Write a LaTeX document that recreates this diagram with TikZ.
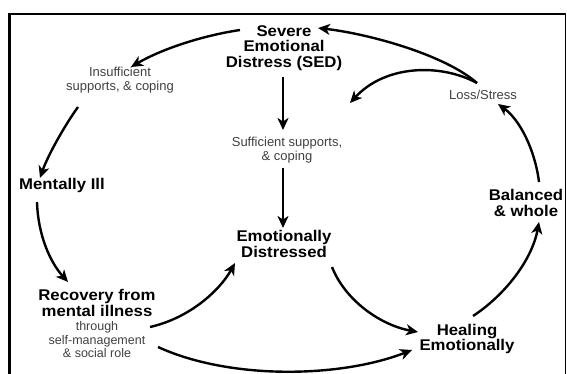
\documentclass[tikz,border=0pt]{standalone}
\usepackage{fontspec}
\setmainfont{Liberation Sans}
\newfontfamily\widebold[FakeStretch=1.08]{Liberation Sans Bold}
\usetikzlibrary{arrows.meta,calc}
\begin{document}
\begin{tikzpicture}[x=1pt,y=-1pt,
  lbl/.style={font=\fontsize{15.5}{15.5}\selectfont\widebold, align=center, inner sep=0pt},
  sub/.style={font=\fontsize{13}{14.5}\selectfont, text=black!75, align=center, inner sep=0pt},
  arr/.style={line width=2.4pt, -{Stealth[length=12pt,width=11pt,inset=3.5pt]}}]
\useasboundingbox (0,0) rectangle (567,374);
% frame
\draw[line width=3pt] (9,380) -- (9,14);
\draw[line width=2pt] (8,14) -- (566,14);
\draw[line width=1.4pt] (565.5,14) -- (565.5,380);
% nodes
\node[lbl] (sed) at (284,48) {Severe\\Emotional\\Distress (SED)};
\node[sub] (insuf) at (120,80) {Insufficient\\supports, \& coping};
\node[lbl] (ment) at (62,185) {Mentally Ill};
\node[lbl] (recov) at (97,303) {Recovery from\\mental illness};
\node[sub, font=\fontsize{12.5}{13.5}\selectfont] (recnote) at (97,340) {through\\self-management\\\& social role};
\node[sub] (suff) at (287,150) {Sufficient supports,\\\& coping};
\node[lbl] (emod) at (284,244) {Emotionally\\Distressed};
\node[lbl] (heal) at (467,339) {Healing\\Emotionally};
\node[lbl] (bal) at (526,203) {Balanced\\\& whole};
\node[sub] (loss) at (483,95) {Loss/Stress};
\coordinate (free) at (350,103);
% connectors
\draw[arr] ($(sed)+(-44,-18)$) .. controls (200,36) and (160,50) .. ($(insuf)+(11,-13)$);
\draw[arr] ($(insuf)+(-42,27)$) .. controls (65,125) and (48,155) .. ($(ment)+(-22,-7)$);
\draw[arr] ($(sed)+(-1,29)$) -- ($(suff)+(-4,-20)$);
\draw[arr] ($(suff)+(-4,18)$) -- ($(emod)+(-1,-16)$);
\draw[arr] ($(ment)+(-25,17)$) .. controls (38,235) and (50,262) .. ($(recov)+(-29,-21)$);
\draw[arr] ($(recnote)+(53,-13)$) .. controls (190,318) and (220,290) .. ($(emod)+(-49,19)$);
\draw[arr] ($(recnote)+(61,7)$) .. controls (230,380) and (340,378) .. ($(heal)+(-55,11)$);
\draw[arr] ($(emod)+(48,23)$) .. controls (345,300) and (380,325) .. ($(heal)+(-49,-7)$);
\draw[arr] ($(heal)+(6,-23)$) .. controls (505,295) and (532,260) .. ($(bal)+(13,19)$);
\draw[arr] ($(bal)+(13,-21)$) .. controls (535,150) and (520,120) .. ($(loss)+(15,9)$);
\draw[arr] ($(loss)+(-6,-12)$) .. controls (445,55) and (370,34) .. ($(sed)+(34,-20)$);
\draw[arr] ($(loss)+(-6,-12)$) .. controls (440,63) and (385,65) .. (free);
\end{tikzpicture}
\end{document}
